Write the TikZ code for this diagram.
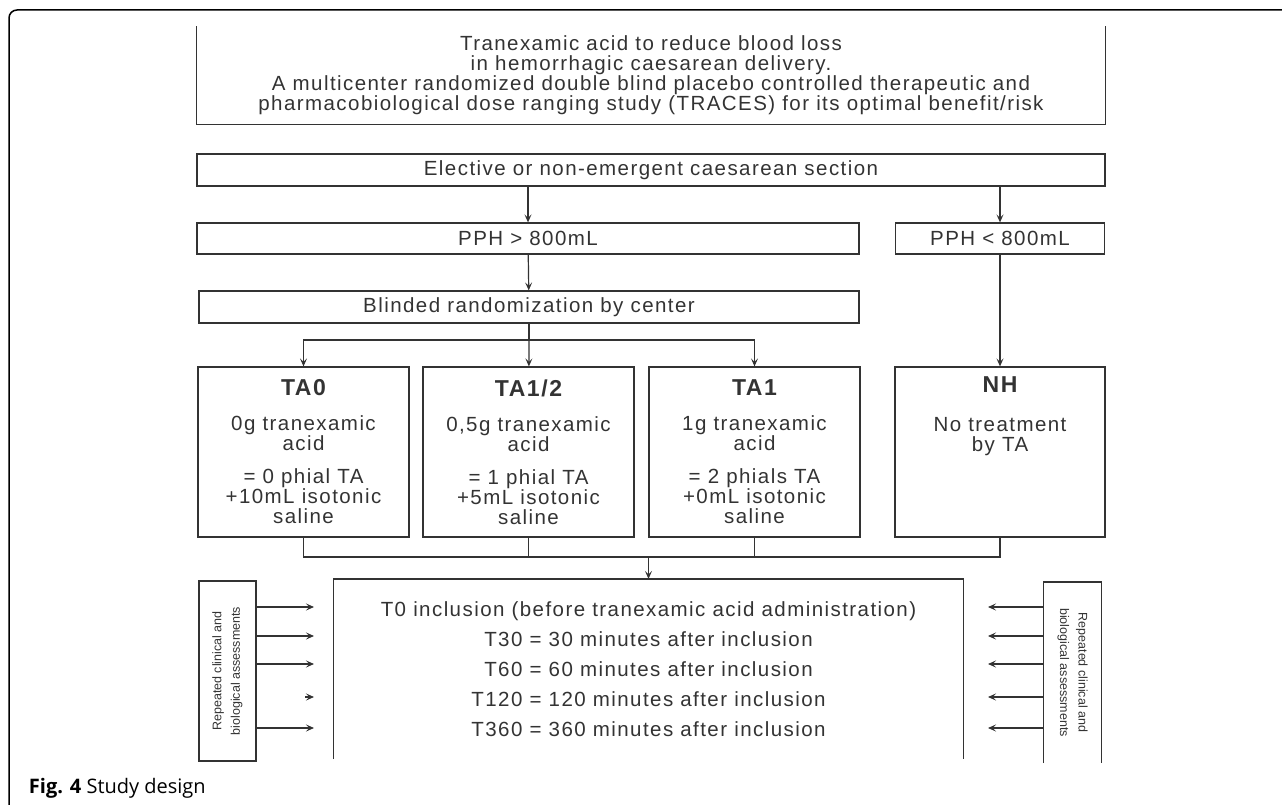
\documentclass[tikz,border=0pt]{standalone}
\usepackage{fontspec}
\setmainfont{Liberation Sans}
\newfontfamily\diagfont{Liberation Sans}[LetterSpace=7]
\newfontfamily\capfont{Open Sans}
\usepackage{xcolor}
\usetikzlibrary{positioning}
\usetikzlibrary{calc}
\usetikzlibrary{arrows.meta}

\begin{document}
\begin{tikzpicture}[x=1pt, y=-1pt, -> , >= {Stealth[length=8pt, width=7pt, inset=3.5pt]}, line width=1.2pt, color=black!80,
        font=\diagfont\fontsize{20.5}{20}\selectfont,
        box/.style={rectangle, draw, inner sep=0pt, align=center},
        armbox/.style={box, minimum width=211, minimum height=170},
        sidebox/.style={box, minimum width=180, minimum height=57, font=\normalfont\fontsize{12.5}{18.5}\selectfont}]
            \useasboundingbox (0,0) rectangle (1282,805);
            % Define the heading of an arm
            \def\armtitle#1{{\bfseries\fontsize{23}{20}\selectfont #1}}

            % Frame of the figure
            \draw[-, line width=1.5pt, color=black, rounded corners=8pt] (9,805) |- (1282,10);

            % Title and selection boxes
            \node[box, draw=none, minimum width=908, minimum height=97] (title) at (651,75.5) {Tranexamic acid to reduce blood loss\\in hemorrhagic caesarean delivery.\\A multicenter randomized double blind placebo controlled therapeutic and\\pharmacobiological dose ranging study (TRACES) for its optimal benefit/risk};
            \draw[-] (title.north west) |- (title.south east) -- (title.north east);
            \node[box, minimum width=908, minimum height=32] (elective) at (651,170) {Elective or non-emergent caesarean section};
            \node[box, minimum width=662, minimum height=31] (pphhigh) at (528,238.5) {PPH > 800mL};
            \node[box, minimum width=209, minimum height=31] (pphlow) at (1000,238.5) {PPH < 800mL};
            \node[box, minimum width=660, minimum height=32] (blinded) at (529,307) {Blinded randomization by center};

            % Arms
            \node[armbox] (ta0) at (303.5,452) {\armtitle{TA0}\\[15pt]0g tranexamic\\acid\\[13pt]= 0 phial TA\\+10mL isotonic\\saline};
            \node[armbox] (tahalf) at (528.5,452) {\armtitle{TA1/2}\\[15pt]0,5g tranexamic\\acid\\[13pt]= 1 phial TA\\+5mL isotonic\\saline};
            \node[armbox] (taone) at (754.5,452) {\armtitle{TA1}\\[15pt]1g tranexamic\\acid\\[13pt]= 2 phials TA\\+0mL isotonic\\saline};
            \node[armbox, minimum width=210] (nh) at (1000,452) {\armtitle{NH}\\[19pt]No treatment\\by TA\\[56pt]\mbox{}};

            % Time points and assessments
            \node[box, draw=none, minimum width=629, minimum height=179, font=\diagfont\fontsize{20.5}{30}\selectfont] (times) at (648.5,669) {T0 inclusion (before tranexamic acid administration)\\T30 = 30 minutes after inclusion\\T60 = 60 minutes after inclusion\\T120 = 120 minutes after inclusion\\T360 = 360 minutes after inclusion};
            \draw[-] (times.south west) |- (times.north east) -- (times.south east);
            \node[sidebox, rotate=90] (assessL) at (227.5,671) {Repeated clinical and\\biological assessments};
            \node[sidebox, rotate=-90, draw=none] (assessR) at (1072.5,672.5) {Repeated clinical and\\biological assessments};
            \draw[-] (assessR.south east) -- (assessR.south west) -- (assessR.north west) -- (assessR.north east);

            % Paths
            \draw (elective.south -| pphhigh) -- (pphhigh);
            \draw (elective.south -| pphlow) -- (pphlow);
            \draw (pphhigh) -- (blinded);
            \draw (pphlow) -- (nh);
            \coordinate (split) at (529,340);
            \draw[-] (blinded) -- (split);
            \draw (split) -| (ta0);
            \draw (split) -- (tahalf);
            \draw (split) -| (taone);
            \coordinate (merge) at (648.5,557);
            \draw[-] (ta0) -- (ta0 |- merge) -| (nh);
            \draw[-] (tahalf) -- (tahalf |- merge);
            \draw[-] (taone) -- (taone |- merge);
            \draw (merge) -- (times);
            \foreach \y [count=\i] in {607,636,664,697,728} {
                \coordinate (inL\i) at (314,\y);
                \coordinate (inR\i) at (988,\y);
                \draw (assessR.south |- inR\i) -- (inR\i);
            }
            \foreach \i in {1,2,3,5} \draw (assessL.south |- inL\i) -- (inL\i);
            \draw ($(inL4)+(-9,0)$) -- (inL4);

            % Caption
            \node[anchor=west, color=black, font=\capfont\fontsize{20}{20}\selectfont] (caption) at (25,788) {\textbf{Fig. 4} Study design};
        \end{tikzpicture}
\end{document}
